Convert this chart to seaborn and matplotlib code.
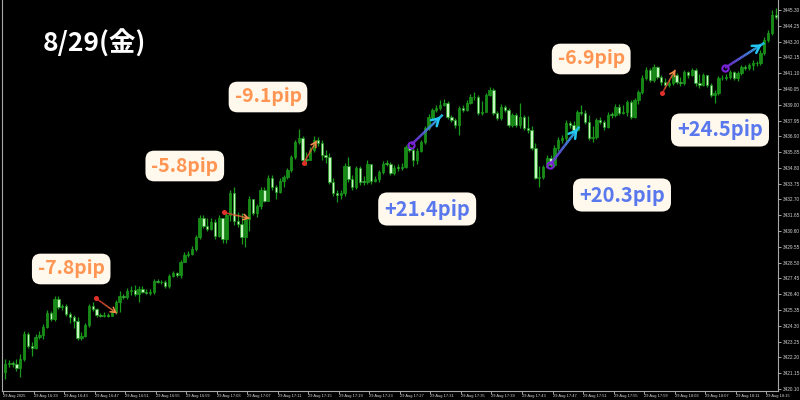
import numpy as np
import matplotlib
matplotlib.use("Agg")
import matplotlib.pyplot as plt
import seaborn as sns
from matplotlib.collections import LineCollection
from matplotlib.colors import LinearSegmentedColormap

# --- datos de velas (XAUUSD, 29 Aug, barras de 30s) ---
first_open = 3421.23
closes = [
    3421.76, 3421.83, 3421.76, 3421.50, 3422.09, 3423.75, 3422.95, 3422.82, 3423.55, 3423.68,
    3424.21, 3425.14, 3424.74, 3426.07, 3425.54, 3425.61, 3425.08, 3424.88, 3424.61, 3423.48,
    3423.62, 3424.35, 3425.61, 3425.41, 3425.01, 3424.94, 3425.01, 3424.98, 3425.21, 3425.87,
    3426.27, 3426.20, 3426.60, 3426.67, 3426.40, 3426.73, 3426.53, 3426.47, 3426.53, 3427.26,
    3427.24, 3427.20, 3426.93, 3427.59, 3427.79, 3427.66, 3428.52, 3428.99, 3429.05, 3429.38,
    3430.18, 3431.44, 3430.91, 3430.71, 3431.18, 3430.25, 3431.44, 3430.05, 3431.64, 3433.16,
    3431.24, 3431.04, 3430.18, 3431.37, 3432.70, 3431.77, 3432.24, 3433.36, 3432.63, 3434.16,
    3433.50, 3433.23, 3433.96, 3434.22, 3434.69, 3435.55, 3436.55, 3436.81, 3435.35, 3435.33,
    3436.01, 3436.68, 3436.48, 3435.68, 3435.55, 3433.89, 3433.16, 3432.97, 3433.10, 3434.95,
    3434.03, 3433.56, 3434.76, 3433.89, 3433.87, 3435.09, 3433.96, 3434.03, 3434.56, 3435.09,
    3435.07, 3434.49, 3434.82, 3434.80, 3434.89, 3436.21, 3436.01, 3435.35, 3435.95, 3436.55,
    3437.47, 3438.20, 3438.67, 3438.80, 3439.00, 3439.13, 3438.20, 3438.00, 3437.67, 3438.80,
    3438.67, 3439.13, 3439.53, 3439.51, 3438.47, 3438.53, 3439.66, 3439.99, 3438.47, 3438.14,
    3438.87, 3438.67, 3437.67, 3438.34, 3437.67, 3438.20, 3437.47, 3437.34, 3436.15, 3434.16,
    3434.22, 3434.89, 3435.48, 3435.02, 3436.15, 3436.68, 3436.81, 3437.81, 3437.67, 3437.34,
    3438.53, 3438.47, 3437.87, 3436.81, 3436.88, 3438.00, 3437.87, 3437.54, 3438.34, 3438.32,
    3438.87, 3438.47, 3438.53, 3439.20, 3438.20, 3439.33, 3439.86, 3440.79, 3441.32, 3440.66,
    3441.52, 3440.85, 3440.52, 3440.32, 3440.46, 3440.99, 3440.52, 3440.46, 3441.19, 3440.99,
    3441.32, 3440.46, 3440.32, 3440.99, 3440.32, 3439.66, 3439.79, 3440.79, 3440.77, 3440.85,
    3441.19, 3440.79, 3441.12, 3441.52, 3441.45, 3441.65, 3441.78, 3441.76, 3442.45, 3443.31,
    3443.77, 3444.97, 3444.83,
]
highs = [
    3422.09, 3422.03, 3421.96, 3422.09, 3422.42, 3423.95, 3423.88, 3423.22, 3423.75, 3423.95,
    3424.41, 3425.34, 3425.27, 3426.27, 3426.27, 3425.74, 3425.74, 3425.21, 3425.01, 3424.88,
    3423.88, 3424.48, 3425.74, 3425.87, 3425.47, 3425.14, 3425.21, 3425.14, 3425.34, 3426.00,
    3426.60, 3426.40, 3426.80, 3426.93, 3427.00, 3426.93, 3426.93, 3426.73, 3426.73, 3427.40,
    3427.40, 3427.33, 3427.33, 3427.73, 3427.93, 3427.86, 3428.66, 3429.19, 3429.25, 3429.58,
    3430.31, 3431.64, 3431.64, 3431.44, 3431.44, 3431.37, 3431.64, 3430.71, 3431.84, 3433.36,
    3433.50, 3431.90, 3431.77, 3431.71, 3432.90, 3432.70, 3432.43, 3433.50, 3433.56, 3434.36,
    3434.36, 3433.69, 3434.16, 3434.36, 3434.82, 3435.68, 3436.68, 3437.41, 3436.94, 3435.88,
    3436.21, 3436.94, 3436.88, 3436.68, 3436.01, 3435.82, 3434.16, 3433.36, 3433.36, 3435.15,
    3435.55, 3434.36, 3434.95, 3434.95, 3434.29, 3435.35, 3435.02, 3434.29, 3434.69, 3435.29,
    3435.35, 3435.22, 3435.02, 3435.09, 3435.15, 3436.35, 3436.41, 3436.28, 3436.15, 3436.68,
    3437.61, 3438.40, 3438.80, 3439.00, 3439.33, 3439.40, 3439.26, 3438.34, 3438.14, 3438.93,
    3439.00, 3439.33, 3439.73, 3439.86, 3439.66, 3439.26, 3439.79, 3440.19, 3440.13, 3438.60,
    3439.06, 3439.00, 3438.80, 3438.47, 3438.47, 3439.13, 3438.34, 3438.27, 3437.61, 3436.48,
    3434.95, 3435.02, 3435.68, 3435.68, 3436.35, 3436.88, 3437.01, 3438.00, 3437.94, 3437.94,
    3438.67, 3439.00, 3438.67, 3438.34, 3437.61, 3438.14, 3438.20, 3438.00, 3438.53, 3438.53,
    3439.06, 3439.06, 3439.00, 3439.33, 3439.33, 3439.46, 3439.99, 3440.99, 3441.52, 3441.45,
    3441.72, 3441.58, 3440.99, 3440.79, 3440.66, 3441.19, 3441.12, 3440.85, 3441.32, 3441.25,
    3441.45, 3441.45, 3441.05, 3441.12, 3440.92, 3440.46, 3439.99, 3440.92, 3440.99, 3441.05,
    3441.32, 3441.25, 3441.25, 3441.65, 3441.65, 3441.78, 3441.98, 3441.92, 3442.64, 3443.51,
    3443.97, 3445.30, 3445.43,
]
lows = [
    3420.77, 3421.56, 3421.56, 3421.30, 3420.90, 3421.96, 3422.82, 3422.29, 3422.75, 3423.42,
    3423.42, 3424.15, 3424.61, 3424.61, 3425.41, 3425.34, 3424.94, 3424.48, 3424.15, 3423.35,
    3423.35, 3423.55, 3424.21, 3425.27, 3424.88, 3424.88, 3424.88, 3424.88, 3424.94, 3425.08,
    3425.21, 3426.07, 3426.07, 3426.34, 3426.27, 3425.87, 3426.47, 3426.40, 3426.34, 3426.40,
    3427.13, 3427.06, 3426.80, 3426.80, 3427.53, 3427.53, 3427.46, 3428.52, 3428.85, 3428.99,
    3429.25, 3430.05, 3430.78, 3430.58, 3430.64, 3430.05, 3430.18, 3429.78, 3429.78, 3431.24,
    3430.98, 3430.84, 3429.72, 3429.52, 3430.58, 3431.64, 3431.51, 3432.10, 3432.50, 3432.57,
    3433.36, 3432.70, 3433.10, 3433.50, 3434.09, 3434.56, 3435.42, 3436.41, 3435.22, 3435.02,
    3435.48, 3435.88, 3436.28, 3435.35, 3435.15, 3433.76, 3432.90, 3432.50, 3432.70, 3432.90,
    3433.89, 3433.36, 3433.43, 3433.69, 3433.69, 3433.76, 3433.76, 3433.83, 3433.89, 3434.42,
    3434.95, 3434.36, 3434.36, 3434.62, 3434.69, 3434.82, 3435.88, 3434.95, 3435.09, 3435.88,
    3436.41, 3437.34, 3438.00, 3438.53, 3438.67, 3438.93, 3438.07, 3437.87, 3437.47, 3437.01,
    3438.53, 3438.60, 3439.06, 3439.33, 3438.34, 3438.34, 3439.06, 3439.60, 3438.34, 3438.00,
    3438.00, 3438.53, 3437.54, 3437.54, 3437.54, 3437.47, 3437.34, 3437.14, 3436.01, 3434.03,
    3433.56, 3434.09, 3434.76, 3434.89, 3434.89, 3435.95, 3436.48, 3436.61, 3437.47, 3437.21,
    3437.27, 3438.34, 3437.74, 3436.68, 3436.55, 3436.74, 3437.74, 3437.34, 3437.47, 3438.14,
    3438.20, 3438.34, 3438.40, 3438.27, 3438.07, 3438.14, 3439.06, 3439.73, 3440.66, 3440.52,
    3440.52, 3440.72, 3440.32, 3440.13, 3440.19, 3440.32, 3440.39, 3440.26, 3440.32, 3440.79,
    3440.92, 3440.26, 3440.13, 3440.26, 3440.19, 3439.53, 3439.13, 3439.66, 3440.66, 3440.66,
    3440.72, 3440.66, 3440.59, 3440.99, 3441.32, 3441.32, 3441.32, 3441.58, 3441.65, 3442.31,
    3443.18, 3443.64, 3444.70,
]

price_ticks = [
    3420.10, 3421.15, 3422.20, 3423.25, 3424.30, 3425.35, 3426.40, 3427.45, 3428.50,
    3429.55, 3430.60, 3431.65, 3432.70, 3433.75, 3434.80, 3435.85, 3436.90, 3437.95,
    3439.00, 3440.05, 3441.10, 3442.15, 3443.20, 3444.25, 3445.30,
]
time_labels = [
    "29 Aug 2025", "29 Aug 16:39", "29 Aug 16:43", "29 Aug 16:47", "29 Aug 16:51",
    "29 Aug 16:55", "29 Aug 16:59", "29 Aug 17:03", "29 Aug 17:07", "29 Aug 17:11",
    "29 Aug 17:15", "29 Aug 17:19", "29 Aug 17:23", "29 Aug 17:27", "29 Aug 17:31",
    "29 Aug 17:35", "29 Aug 17:39", "29 Aug 17:43", "29 Aug 17:47", "29 Aug 17:51",
    "29 Aug 17:55", "29 Aug 17:59", "29 Aug 18:03", "29 Aug 18:07", "29 Aug 18:11",
    "29 Aug 18:15",
]
bars_per_label = 8

# flechas de operaciones: (vela inicio, precio inicio, vela fin, precio fin)
trade_starts = [(23.8, 3426.14), (57.3, 3431.84), (78.3, 3435.15), (106.5, 3436.35),
                (142.9, 3435.02), (172.3, 3439.79), (188.7, 3441.45)]
trade_ends = [(29.3, 3425.14), (64.1, 3431.44), (81.7, 3436.61), (114.7, 3438.33),
              (150.5, 3437.54), (175.7, 3441.32), (199.0, 3443.11)]
trade_pips = ["-7.8pip", "-5.8pip", "-9.1pip", "+21.4pip", "+20.3pip", "-6.9pip", "+24.5pip"]

title_text = "8/29(金)"

# ==========================================
# ESTILO
# ==========================================
sns.set_style("dark", {"axes.facecolor": "black", "figure.facecolor": "black"})
plt.rcParams["font.family"] = ["Noto Sans CJK JP", "DejaVu Sans"]

fig = plt.figure(figsize=(8, 4), dpi=100, facecolor="black")
ax = fig.add_axes([0.0025, 0.0225, 0.97, 0.9775])
ax.set_facecolor("black")

closes = np.array(closes)
highs = np.array(highs)
lows = np.array(lows)
opens = np.concatenate([[first_open], closes[:-1]])
idx = np.arange(len(closes))

wick_col = "#1a9a1a"
bull_col = "#178a17"
bear_col = "#c6f7c0"

# mechas
ax.vlines(idx, lows, highs, color=wick_col, linewidth=0.9, zorder=2)

# cuerpos
bull = closes >= opens
body_bottom = np.minimum(opens, closes)
body_h = np.maximum(np.abs(closes - opens), 0.03)
ax.bar(idx[bull], body_h[bull], bottom=body_bottom[bull], width=0.62,
       color=bull_col, edgecolor=wick_col, linewidth=0.5, zorder=3)
ax.bar(idx[~bull], body_h[~bull], bottom=body_bottom[~bull], width=0.62,
       color=bear_col, edgecolor=wick_col, linewidth=0.5, zorder=3)

ax.set_xlim(-0.8, 202.6)
ax.set_ylim(3419.97, 3445.96)

# eje de precios a la derecha
ax.yaxis.tick_right()
ax.set_yticks(price_ticks)
ax.set_yticklabels([f"{p:.2f}" for p in price_ticks])
ax.tick_params(axis="y", colors="#bfbfbf", labelsize=3.4, length=2, width=0.6,
               pad=1.2, labelcolor="#d4d4d4", right=True, left=False,
               labelfontfamily="Liberation Sans")

# eje de tiempo
ax.set_xticks(np.arange(len(time_labels)) * bars_per_label - 0.5)
ax.set_xticklabels(time_labels, ha="left")
ax.tick_params(axis="x", colors="#bfbfbf", labelsize=2.9, length=1.8, width=0.6,
               pad=0.4, labelcolor="#d4d4d4", bottom=True,
               labelfontfamily="Liberation Sans")

for side in ["right", "bottom", "left"]:
    ax.spines[side].set_color("#a8a8a8")
    ax.spines[side].set_linewidth(0.8)
ax.spines["top"].set_visible(False)
ax.grid(False)

# flechas con degradado
neg_cmap = LinearSegmentedColormap.from_list("neg", ["#e0302a", "#f58a4a"])
pos_cmap = LinearSegmentedColormap.from_list("pos", ["#7a22d8", "#22c8f2"])

for (x0, y0), (x1, y1), pip in zip(trade_starts, trade_ends, trade_pips):
    positive = pip.startswith("+")
    cmap = pos_cmap if positive else neg_cmap
    t = np.linspace(0, 1, 30)
    xs = x0 + (x1 - x0) * t
    ys = y0 + (y1 - y0) * t
    pts = np.column_stack([xs, ys]).reshape(-1, 1, 2)
    segs = np.concatenate([pts[:-1], pts[1:]], axis=1)
    lc = LineCollection(segs, cmap=cmap, linewidths=1.8 if positive else 1.1, zorder=5)
    lc.set_array(t[:-1])
    ax.add_collection(lc)
    # punta de flecha
    ax.annotate("", xy=(x1, y1), xytext=(x0 + (x1 - x0) * 0.8, y0 + (y1 - y0) * 0.8),
                arrowprops=dict(arrowstyle="->,head_length=0.5,head_width=0.3" if positive
                                else "->,head_length=0.35,head_width=0.2",
                                color=cmap(1.0), lw=1.8 if positive else 1.1),
                zorder=6)
    # marca inicial
    if positive:
        ax.plot(x0, y0, "o", ms=4.5, mfc="none", mec="#7a22d8", mew=1.5, zorder=7)
    else:
        ax.plot(x0, y0, "o", ms=2.6, color="#e0302a", zorder=7)

# etiquetas de pips
label_pos = [(0.089, 0.3275), (0.231, 0.585), (0.335, 0.7575), (0.534, 0.4775),
             (0.7775, 0.5125), (0.739, 0.8525), (0.9, 0.675)]
for (fx, fy), pip in zip(label_pos, trade_pips):
    col = "#5a78ee" if pip.startswith("+") else "#ff9552"
    fig.text(fx, fy, pip, color=col, fontsize=14.5 if pip.startswith("+") else 14,
             fontweight="bold", ha="center", va="center",
             bbox=dict(boxstyle="round,pad=0.3,rounding_size=0.45", fc="#fff8ec", ec="none"))

fig.text(0.1175, 0.89, title_text, color="white", fontsize=19, fontweight="bold",
         ha="center", va="center")

fig.savefig("out.png", dpi=100, facecolor="black")
